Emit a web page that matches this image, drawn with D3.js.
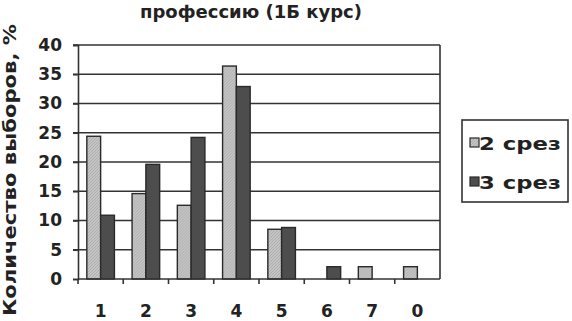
<!DOCTYPE html>
<html lang="ru">
<head>
<meta charset="UTF-8">
<title>Chart</title>
<script src="https://d3js.org/d3.v7.min.js"></script>
<style>
  body { margin: 0; background: #fff; }
  text { font-family: "DejaVu Sans", sans-serif; font-weight: bold; fill: #222; }
</style>
</head>
<body>
<div id="chart"></div>
<script>
    // data
    const categories = ['1', '2', '3', '4', '5', '6', '7', '0'];
    const series = ['2 срез', '3 срез'];
    const srez2 = [24.4, 14.6, 12.6, 36.4, 8.5, 0, 2.1, 2.1];
    const srez3 = [10.9, 19.6, 24.2, 32.9, 8.8, 2.1, 0, 0];
    const yTicks = [0, 5, 10, 15, 20, 25, 30, 35, 40];

    const W = 572, H = 321;
    const plot = {left: 78, right: 440, top: 45, bottom: 279};

    const svg = d3.select("#chart").append("svg")
        .attr("width", W).attr("height", H);

    // hatch pattern for the light bars
    const defs = svg.append("defs");
    const pat = defs.append("pattern")
        .attr("id", "hatch")
        .attr("width", 3).attr("height", 3)
        .attr("patternUnits", "userSpaceOnUse");
    pat.append("rect").attr("width", 3).attr("height", 3).attr("fill", "#c4c4c4");
    pat.append("path").attr("d", "M0,3 L3,0").attr("stroke", "#a8a8a8").attr("stroke-width", 0.8);

    const x = d3.scaleBand().domain(categories).range([plot.left, plot.right]);
    const inner = d3.scaleBand().domain(series).range([0, x.bandwidth()]).paddingInner(0).paddingOuter(0.64);
    const y = d3.scaleLinear().domain([0, 40]).range([plot.bottom, plot.top]);

    // gridlines
    svg.append("g")
      .selectAll("line")
      .data(yTicks.filter(d => d > 0))
      .join("line")
        .attr("x1", plot.left - 5).attr("x2", plot.right)
        .attr("y1", d => y(d)).attr("y2", d => y(d))
        .attr("stroke", "#333").attr("stroke-width", 1.6);

    // right border
    svg.append("line")
        .attr("x1", plot.right).attr("x2", plot.right)
        .attr("y1", plot.top).attr("y2", plot.bottom)
        .attr("stroke", "#333").attr("stroke-width", 1.6);

    // bars
    const data = categories.map((c, i) => ({cat: c, vals: [srez2[i], srez3[i]]}));
    const groups = svg.append("g").selectAll("g")
      .data(data)
      .join("g")
        .attr("transform", d => `translate(${x(d.cat)},0)`);
    groups.selectAll("rect")
      .data(d => d.vals.map((v, j) => ({s: series[j], v: v})).filter(e => e.v > 0))
      .join("rect")
        .attr("x", e => inner(e.s))
        .attr("width", inner.bandwidth())
        .attr("y", e => y(e.v))
        .attr("height", e => y(0) - y(e.v))
        .attr("fill", e => e.s === series[0] ? "url(#hatch)" : "#4d4d4d")
        .attr("stroke", "#2a2a2a").attr("stroke-width", 1.4);

    // y axis
    const yAxis = svg.append("g")
        .attr("transform", `translate(${plot.left},0)`)
        .call(d3.axisLeft(y).tickValues(yTicks).tickSize(5).tickPadding(11));
    yAxis.select(".domain").attr("stroke", "#333").attr("stroke-width", 1.6);
    yAxis.selectAll(".tick line").attr("stroke", "#333").attr("stroke-width", 1.6);
    yAxis.selectAll(".tick text").style("font-size", "17px")
        .style("font-family", "'DejaVu Sans', sans-serif").attr("fill", "#222");

    // x axis with ticks between categories
    const xAxis = svg.append("g")
        .attr("transform", `translate(0,${plot.bottom})`);
    xAxis.append("line")
        .attr("x1", plot.left).attr("x2", plot.right)
        .attr("stroke", "#333").attr("stroke-width", 1.6);
    xAxis.selectAll("line.tk")
      .data(categories)
      .join("line")
        .attr("class", "tk")
        .attr("x1", d => x(d)).attr("x2", d => x(d))
        .attr("y1", 0).attr("y2", 5)
        .attr("stroke", "#333").attr("stroke-width", 1.6);
    xAxis.selectAll("text")
      .data(categories)
      .join("text")
        .attr("x", d => x(d) + x.bandwidth() / 2)
        .attr("y", 38)
        .attr("text-anchor", "middle")
        .style("font-size", "17px")
        .text(d => d);

    // title
    svg.append("text")
        .attr("x", 140).attr("y", 17.5)
        .attr("textLength", 222).attr("lengthAdjust", "spacingAndGlyphs")
        .style("font-size", "18px")
        .text("профессию (1Б курс)");

    // y label
    svg.append("text")
        .attr("transform", "translate(16,316) rotate(-90)")
        .attr("textLength", 292).attr("lengthAdjust", "spacingAndGlyphs")
        .style("font-size", "18px")
        .text("Количество выборов, %");

    // legend
    const lg = svg.append("g").attr("transform", "translate(462,120)");
    lg.append("rect")
        .attr("width", 106).attr("height", 82)
        .attr("fill", "#fff").attr("stroke", "#333").attr("stroke-width", 1.6);
    const li = lg.selectAll("g.item")
      .data(series)
      .join("g")
        .attr("class", "item")
        .attr("transform", (d, i) => `translate(8,${23 + i * 39})`);
    li.append("rect")
        .attr("y", -5).attr("width", 9).attr("height", 9)
        .attr("fill", (d, i) => i === 0 ? "url(#hatch)" : "#4d4d4d")
        .attr("stroke", "#2a2a2a").attr("stroke-width", 1.2);
    li.append("text")
        .attr("x", 9).attr("y", 7)
        .attr("textLength", 82).attr("lengthAdjust", "spacingAndGlyphs")
        .style("font-size", "18px")
        .text(d => d);
</script>
</body>
</html>
